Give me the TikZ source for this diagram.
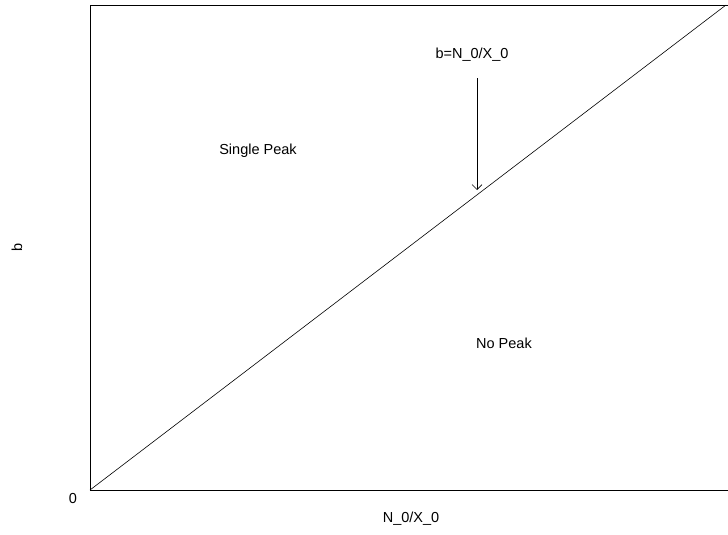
\documentclass[tikz,border=0pt]{standalone}
\usepackage{fontspec}
\setmainfont{Liberation Sans}
\usepackage{tikz}
\usetikzlibrary{arrows.meta}
\newcommand{\LBL}[1]{\fontsize{14.5}{16}\selectfont #1}

\begin{document}
\begin{tikzpicture}[x=1pt,y=-1pt]
    \useasboundingbox (0,0) rectangle (728,535);

    \coordinate (a) at (90,490);
    \coordinate (b) at (732,490);
    \coordinate (c) at (732,5);
    \coordinate (d) at (90,5);
    \coordinate (e) at (726,5);

    \coordinate (p) at (477,78);
    \coordinate (q) at (477,190);

    \draw[line width=0.9pt] (a) -- (b) -- (c) -- (d) -- cycle;
    \draw[line width=0.6pt] (a) -- (e);
    \draw[line width=0.6pt,-{Straight Barb[length=5pt,width=10pt]}] (p) -- (q);

    \node (lab) at (472,55) {\LBL{b=N\_0/X\_0}};
    \node (sp) at (258,151) {\LBL{Single Peak}};
    \node (np) at (504,343) {\LBL{No Peak}};

    \node (zero) at (73,499) {\LBL{0}};
    \node (xl) at (411,519) {\LBL{N\_0/X\_0}};
    \node[rotate=90] (yl) at (17,247) {\LBL{b}};
  \end{tikzpicture}
\end{document}
